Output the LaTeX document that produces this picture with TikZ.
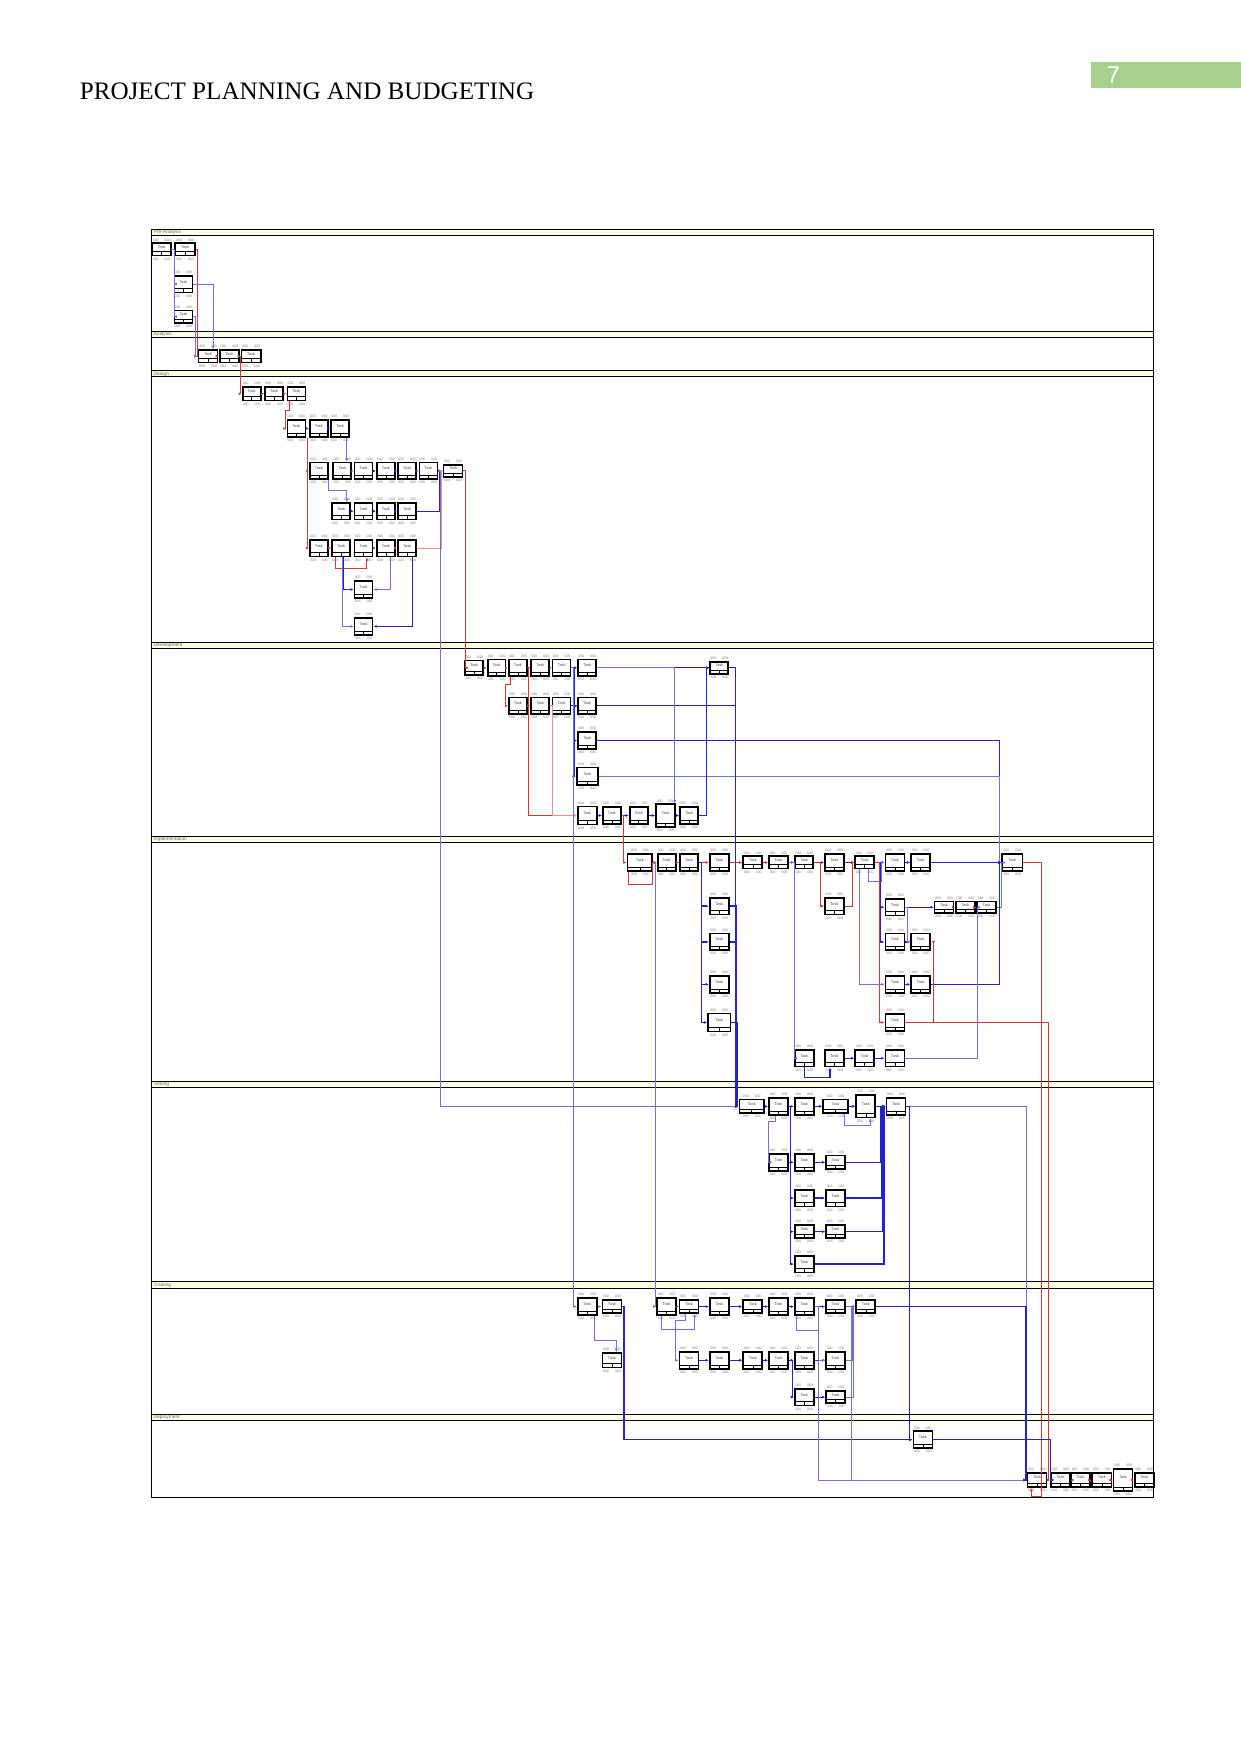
\documentclass[tikz,border=0pt]{standalone}
\usepackage{fontspec}
\setmainfont{Liberation Serif}
\newfontfamily\lsans{Liberation Sans}
\usetikzlibrary{calc,arrows.meta}
\newcommand\ux{0.5519pt}
\definecolor{rdc}{RGB}{215,55,55}
\definecolor{pkc}{RGB}{236,140,140}
\definecolor{blc}{RGB}{35,35,205}
\definecolor{ptc}{RGB}{112,112,222}
\definecolor{bandc}{RGB}{255,255,228}
\definecolor{greenc}{RGB}{168,208,141}
\definecolor{numc}{RGB}{130,130,130}
\tikzset{
  tk/.style={draw=black,line width=0.85pt,fill=white,inner sep=0pt,rectangle},
  tkin/.style={draw=black,line width=0.3pt},
  tkname/.style={inner sep=0pt,font=\lsans\fontsize{1.9}{2.1}\selectfont,text=black!70},
  tknum/.style={inner sep=0.2pt,font=\lsans\fontsize{1.7}{1.9}\selectfont,text=numc},
  tip/.style={-{Latex[length=1.6pt,width=1.4pt]}},
  rd/.style={draw=rdc,line width=0.45pt,tip},
  pk/.style={draw=pkc,line width=0.4pt,tip},
  bl/.style={draw=blc,line width=0.6pt,tip},
  bt/.style={draw=ptc,line width=0.35pt,tip},
  laneband/.style={draw=black,line width=0.5pt,fill=bandc},
  lanelab/.style={inner sep=0pt,anchor=west,font=\lsans\fontsize{2.4}{2.6}\selectfont,text=black!60}
}
\newcommand\tk[5]{%
  \node[tk,minimum width=#4*\ux,minimum height=#5*\ux] (#1) at (#2,#3) {};
  \draw[tkin] ($(#1.south west)+(0,-4.2)$) -- ($(#1.south east)+(0,-4.2)$);
  \draw[tkin] (#1.south) -- ++(0,-4.2);
  \node[tkname] at ($(#1)+(0,-2.1)$) {Task};
  \node[tknum,anchor=south] at ($(#1.north)+(0,-0.5)$) {000\hspace{3pt}000};
  \node[tknum,anchor=north] at ($(#1.south)+(0,0.5)$) {000\hspace{3pt}000};
}
\begin{document}
\begin{tikzpicture}[x=\ux,y=-\ux]
\useasboundingbox (0,0) rectangle (1109,1568);
% page header
\node[inner sep=0pt,anchor=base west,font=\fontsize{12.4}{14}\selectfont] (title) at (71,88.5) {PROJECT PLANNING AND BUDGETING};
\fill[greenc] (975,55) rectangle (1109,79);
\node[inner sep=0pt,anchor=base west,text=white,font=\lsans\fontsize{12}{14}\selectfont] (pageno) at (989,75) {7};
% frame and lanes
\draw[line width=0.5pt] (135,205) rectangle (1031,1339);
\foreach \t/\lab in {205/Pre-Analysis,296/Analysis,331.5/Design,574/Development,747.5/Implementation,966.5/Testing,1146/Training,1264.5/Deployment}{
  \draw[laneband] (135,\t) rectangle (1031,\t+5.5);
  \node[lanelab] at (137,\t+2.75) {\lab};
}
% ---------------- nodes
\tk{p1}{144.5}{223}{17}{11}
\tk{p2}{165.5}{223}{18}{11}
\tk{p3}{164}{254}{16}{15}
\tk{p4}{164}{283}{16}{11}
\tk{a1}{186}{318.5}{17}{11}
\tk{a2}{205}{318.5}{17}{11}
\tk{a3}{224.5}{318.5}{17}{11}
\tk{d1}{225}{352}{16}{12}
\tk{d2}{245}{352}{16}{12}
\tk{d3}{265}{352}{16}{12}
\tk{d4}{265}{383}{16}{15}
\tk{d5}{285}{383}{16}{15}
\tk{d6}{304}{383}{16}{15}
\tk{e1}{285}{421}{16}{15}
\tk{e2}{306}{421}{16}{15}
\tk{e3}{325}{421}{16}{15}
\tk{e4}{345}{421}{16}{15}
\tk{e5}{364}{421}{16}{15}
\tk{e6}{383}{421}{16}{15}
\tk{e7}{405}{421}{17}{11}
\tk{g1}{305}{457}{16}{15}
\tk{g2}{325}{457}{16}{15}
\tk{g3}{345}{457}{16}{15}
\tk{g4}{364}{457}{16}{15}
\tk{f1}{285}{490}{16}{15}
\tk{f2}{305}{490}{16}{15}
\tk{f3}{325}{490}{16}{15}
\tk{f4}{345}{490}{16}{15}
\tk{f5}{364}{490}{16}{15}
\tk{h1}{325}{527}{16}{15}
\tk{h2}{325}{560}{16}{15}
\tk{q1}{424}{597}{16}{13}
\tk{q2}{444}{597}{16}{15}
\tk{q3}{463}{597}{16}{15}
\tk{q4}{483}{597}{16}{15}
\tk{q5}{502}{597}{16}{15}
\tk{q6}{525}{597}{16}{15}
\tk{q7}{643}{597}{16}{11}
\tk{s1}{463}{631}{16}{15}
\tk{s2}{483}{631}{16}{15}
\tk{s3}{502}{631}{16}{15}
\tk{s4}{525}{631}{16}{15}
\tk{t1}{525}{662}{16}{15}
\tk{u1}{525}{694}{19}{16}
\tk{v1}{525}{729}{17}{16}
\tk{v2}{547}{729}{16}{15}
\tk{v3}{571}{729}{16}{15}
\tk{v4}{595}{729}{17}{20}
\tk{v5}{616}{729}{16}{15}
\tk{w1}{572}{771}{22}{15}
\tk{w2}{596}{771}{16}{15}
\tk{w3}{616}{771}{16}{15}
\tk{w4}{643}{771}{17}{15}
\tk{w5}{673}{771}{17}{11}
\tk{w6}{696}{771}{17}{11}
\tk{w7}{719}{771}{16}{11}
\tk{w8}{746}{771}{17}{15}
\tk{w9}{773}{771}{17}{11}
\tk{w10}{800}{771}{17}{15}
\tk{w11}{823}{771}{17}{15}
\tk{w12}{905}{771}{18}{15}
\tk{x1}{643}{810}{17}{15}
\tk{x2}{643}{842}{17}{15}
\tk{x3}{643}{880}{17}{15}
\tk{x4}{643}{914}{20}{16}
\tk{y1}{746}{810}{17}{15}
\tk{z1}{800}{811}{17}{15}
\tk{z2}{800}{842}{17}{15}
\tk{z3}{800}{880}{17}{15}
\tk{z4}{800}{914}{17}{15}
\tk{k1}{823}{842}{17}{15}
\tk{k2}{823}{880}{17}{15}
\tk{m1}{844}{811}{17}{10}
\tk{m2}{863}{811}{17}{10}
\tk{m3}{882}{811}{17}{10}
\tk{b1}{719}{946}{17}{15}
\tk{b2}{746}{946}{17}{15}
\tk{b3}{773}{946}{17}{15}
\tk{b4}{800}{946}{17}{15}
\tk{c1}{672}{989}{22}{12}
\tk{c2}{696}{989}{17}{15}
\tk{c3}{719}{989}{17}{15}
\tk{c4}{747}{989}{22}{12}
\tk{c5}{774}{989}{17}{20}
\tk{c6}{801}{989}{17}{15}
\tk{o1}{696}{1039}{17}{15}
\tk{o2}{719}{1039}{17}{15}
\tk{o3}{747}{1039}{17}{12}
\tk{o4}{719}{1071}{17}{15}
\tk{o5}{747}{1071}{17}{15}
\tk{o6}{719}{1101}{17}{12}
\tk{o7}{747}{1101}{17}{12}
\tk{o8}{719}{1130}{17}{15}
\tk{i1}{525}{1168}{17}{15}
\tk{i2}{547}{1168}{17}{12}
\tk{i3}{596}{1168}{17}{15}
\tk{i4}{616}{1168}{17}{12}
\tk{i5}{643}{1168}{17}{15}
\tk{i6}{673}{1168}{17}{12}
\tk{i7}{696}{1168}{17}{15}
\tk{i8}{719}{1168}{17}{15}
\tk{i9}{747}{1168}{17}{12}
\tk{i10}{774}{1168}{17}{12}
\tk{j1}{547}{1216}{17}{13}
\tk{j2}{616}{1216}{17}{15}
\tk{j3}{643}{1216}{17}{15}
\tk{j4}{673}{1216}{17}{15}
\tk{j5}{696}{1216}{17}{15}
\tk{j6}{719}{1216}{17}{15}
\tk{j7}{747}{1216}{17}{15}
\tk{l1}{719}{1249}{17}{15}
\tk{l2}{747}{1249}{17}{11}
\tk{n1}{825}{1287}{17}{15}
\tk{ze1}{927}{1323}{17}{13}
\tk{ze2}{948}{1323}{17}{13}
\tk{ze3}{966}{1323}{17}{13}
\tk{ze4}{985}{1323}{17}{13}
\tk{ze5}{1004}{1323}{17}{20}
\tk{ze6}{1023}{1323}{17}{13}
% ---------------- connectors
% lane 1-2
\draw[rd] (p1.east) -- (p2.west);
\draw[bt] (p1.east) -- ++(2,0) |- (p3.west);
\draw[bt] (p1.east) -- ++(2,0) |- (p4.west);
\draw[rd] (p2.east) -- ++(1,0) |- (a1.west);
\draw[bt] (p3.east) -| ($(a1.north)+(4.5,0)$);
\draw[bt] (p4.east) -- ++(1.5,0) |- (a1.west);
\draw[rd] (a1.east) -- (a2.west);
\draw[bt] (a2.east) -- (a3.west);
\draw[rd] (a2.east) -- ++(1,0) |- (d1.west);
% lane 3
\draw[rd] (d1.east) -- (d2.west);
\draw[rd] (d2.east) -- (d3.west);
\draw[rd] ($(d3.south)+(-6,0)$) -- ++(0,8) -- ++(-4,0) |- (d4.west);
\draw[bl] (d4.east) -- (d5.west);
\draw[bl] (d5.east) -- (d6.west);
\draw[bt] ($(d6.south)+(6,0)$) -- ++(0,10) -| ($(e2.north)+(4,0)$);
\draw[bt] ($(d4.south east)+(1,0)$) |- (e1.west);
\draw[rd] ($(d4.south east)+(1.5,0)$) |- (f1.west);
\foreach \a/\b in {e2/e3,e3/e4,e4/e5,e5/e6,e6/e7,g1/g2,g2/g3,g3/g4}{\draw[bl] (\a.east) -- (\b.west);}
\draw[bt] (e1.south east) -- ++(0,9) -| ($(g1.north)+(5,0)$);
\draw[bl] (g4.east) -- ++(20,0) |- (e7.west);
\foreach \a/\b in {f1/f2,f3/f4,f4/f5}{\draw[rd] (\a.east) -- (\b.west);}
\draw[rd] ($(f2.south)+(-5,0)$) -- ++(0,10) -| ($(f3.south)+(3,0)$);
\draw[pk] (f5.east) -- ++(22,0) |- (e7.west);
\draw[bl] ($(f2.south)+(2,0)$) |- (h1.west);
\draw[bt] ($(f2.south)+(1,0)$) |- (h2.west);
\draw[bt] ($(f4.south)+(4,0)$) |- (h1.east);
\draw[bl] ($(f5.south)+(5,0)$) |- (h2.east);
\draw[rd] (e7.east) -- ++(1.5,0) |- (q1.west);
\draw[bt] (e6.east) -- ++(2,0) |- (c1.west);
% lane 4
\draw[rd] (q1.east) -- (q2.west);
\draw[rd] (q2.east) -- (q3.west);
\foreach \a/\b in {q3/q4,q4/q5,q5/q6,q6/q7,s2/s3,s3/s4,v1/v2,v2/v3,v3/v4,v4/v5}{\draw[bl] (\a.east) -- (\b.west);}
\draw[rd] ($(q3.south west)+(2,0)$) -- ++(0,7) -- ++(-4,0) |- (s1.west);
\draw[rd] (s1.east) -- (s2.west);
\draw[rd] (q3.east) -- ++(1,0) |- (v1.west);
\draw[pk] (s2.east) -- ++(2,0) |- (v1.west);
\draw[bl] (q5.east) -- ++(3,0) |- (s4.west);
\draw[bl] (q5.east) -- ++(3,0) |- (t1.west);
\draw[bl] (q5.east) -- ++(3,0) |- (u1.west);
\draw[bt] (q5.east) -- ++(1.5,0) |- (i1.west);
\draw[bl] (s4.east) -- ++(124,0) |- (c1.west);
\draw[bl] (t1.east) -- ++(360,0) |- (w12.west);
\draw[bl] (u1.east) -- ++(96,0) |- (q7.west);
\draw[bt] (u1.east) -- ++(358,0) |- (w12.west);
\draw[bl] (v5.east) -- ++(7,0) |- (q7.west);
\draw[bl] (q7.east) -- ++(6,0) |- (c1.west);
\draw[bt] (q6.east) -| ($(v4.north east)+(-1,0)$);
\draw[rd] (v2.east) -- ++(2,0) |- (w1.west);
% lane 5
\foreach \a/\b in {w1/w2,w2/w3,w3/w4,w4/w5,w5/w6,w6/w7,m1/m2,m2/m3}{\draw[rd] (\a.east) -- (\b.west);}
\foreach \a/\b in {w7/w8,w8/w9,w9/w10,w10/w11,w11/w12,z1/m1,z2/k1,z3/k2,b2/b3,b3/b4}{\draw[bl] (\a.east) -- (\b.west);}
\draw[rd] ($(w1.south west)+(2,0)$) -- ++(0,11) -| ($(w2.west)+(-4,0)$) -- (w2.west);
\draw[bl] (w3.east) -- ++(2,0) |- (x1.west);
\draw[bl] (w3.east) -- ++(2,0) |- (x2.west);
\draw[bl] (w3.east) -- ++(2,0) |- (x3.west);
\draw[bl] (w3.east) -- ++(2,0) |- (x4.west);
\draw[bt] (w1.east) -- ++(2,0) |- (i3.west);
\draw[bl] (x1.east) -- ++(6,0) |- (c1.west);
\draw[bl] (x2.east) -- ++(6,0) |- (c1.west);
\draw[bl] (x4.east) -- ++(5,0) |- (c1.west);
\draw[rd] (w7.east) -- ++(6,0) |- (y1.west);
\draw[rd] (y1.east) -- ++(7,0) |- (w9.west);
\draw[bt] ($(w9.south)+(3,0)$) -- ++(0,11) -| ($(w10.west)+(-3,0)$) -- (w10.west);
\draw[bl] (w9.east) -- ++(5,0) |- (z1.west);
\draw[bl] (w9.east) -- ++(5,0) |- (z2.west);
\draw[rd] (w9.east) -- ++(4,0) |- (z4.west);
\draw[bt] ($(w9.south)+(-5,0)$) |- (z3.west);
\draw[bt] (z1.east) -- ++(2,0) |- (k1.west);
\draw[bt] (m3.east) -- ++(4,0) |- (w12.west);
\draw[bl] (k2.east) -- ++(61,0) |- (w12.west);
\draw[rd] (z4.east) -| ($(k1.east)+(2.5,0)$) -- (k1.east);
\draw[rd] (z4.east) -- ++(128,0) |- (ze2.west);
\draw[rd] (w12.east) -- ++(16,0) -- ++(0,567) -| ($(ze1.south)+(-5,0)$);
\draw[bt] (w6.east) -- ++(5,0) |- (b1.west);
\draw[bl] (b1.south) -- ++(0,9) -| ($(b2.south)+(-4,0)$);
\draw[bt] (b4.east) -- ++(64,0) |- (m3.west);
% lane 6
\foreach \a/\b in {c1/c2,c2/c3,c3/c4,c4/c5,c5/c6,o1/o2,o2/o3,o4/o5,o6/o7}{\draw[bl] (\a.east) -- (\b.west);}
\draw[bt] (c6.east) -- ++(107,0) |- (ze1.west);
\draw[bl] (c6.east) -- ++(3,0) |- (n1.west);
\draw[bt] ($(c2.south)+(-3,0)$) -- ++(0,5) -- ++(-6,0) |- (o1.west);
\draw[bl] (c2.east) -- ++(1.5,0) |- (o4.west);
\draw[bl] (c2.east) -- ++(1.5,0) |- (o6.west);
\draw[bl] (c2.east) -- ++(1.5,0) |- (o8.west);
\draw[bl] (o3.east) -- ++(31,0) |- (c6.west);
\draw[bl] (o5.east) -- ++(32,0) |- (c6.west);
\draw[bl] (o7.east) -- ++(33,0) |- (c6.west);
\draw[bl] (o8.east) -- ++(62,0) |- (c6.west);
\draw[bt] ($(c4.south)+(8,0)$) -- ++(0,10) -| ($(c5.south)+(4,0)$);
% lane 7
\foreach \a/\b in {i3/i4,i4/i5,i5/i6,i6/i7,i7/i8,i8/i9,i9/i10,j2/j3,j3/j4,j4/j5,j5/j6,j6/j7,l1/l2}{\draw[bl] (\a.east) -- (\b.west);}
\draw[bt] (i1.east) -- (i2.west);
\draw[bt] ($(i1.south)+(6,0)$) -- ++(0,22) -| ($(j1.north)+(4,0)$);
\draw[bl] (i2.east) -- ++(1.5,0) |- (n1.west);
\draw[bt] ($(i3.south)+(-5,0)$) -- ++(0,12) -| ($(i4.south)+(5,0)$);
\draw[bt] ($(i4.south)+(-3,0)$) -- ++(0,6) -- ++(-9,0) |- (j2.west);
\draw[bt] ($(i8.south west)+(2,0)$) -- ++(0,13) -| ($(j7.west)+(-6,0)$) -- (j7.west);
\draw[bl] (j5.east) -- ++(3,0) |- (l1.west);
\draw[bt] (j7.east) -- ++(6,0) |- (i10.west);
\draw[bt] (l2.east) -- ++(7,0) |- (i10.west);
\draw[bt] (i8.east) -- ++(3,0) |- (ze1.west);
\draw[bt] (i9.east) -- ++(5,0) |- (ze1.west);
\draw[bl] (i10.east) -- ++(134,0) |- (ze1.west);
% lane 8
\foreach \a/\b in {ze1/ze2,ze2/ze3,ze3/ze4,ze4/ze5,ze5/ze6}{\draw[rd] (\a.east) -- (\b.west);}
\draw[bl] (n1.east) -- ++(105,0) |- (ze2.west);
\end{tikzpicture}
\end{document}
